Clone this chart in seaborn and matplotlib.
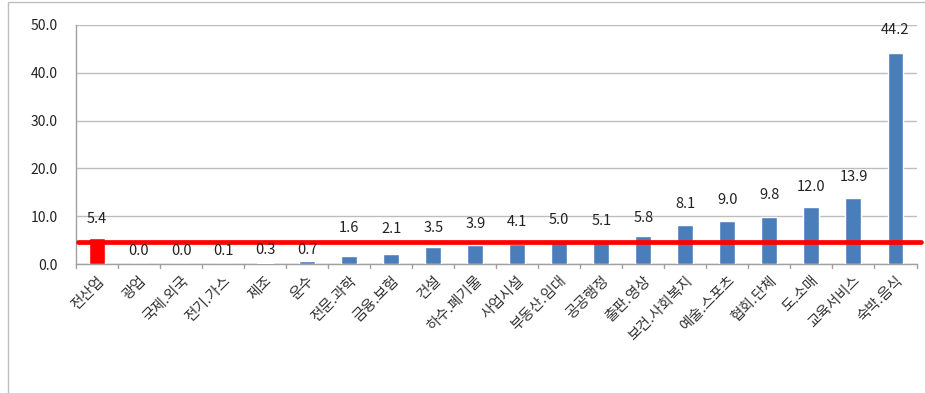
import matplotlib
matplotlib.use("Agg")
import matplotlib.pyplot as plt
import seaborn as sns
import pandas as pd
from matplotlib.patches import Rectangle

categories = ["전산업", "광업", "국제.외국", "전기.가스", "제조", "운수", "전문.과학",
              "금융.보험", "건설", "하수.폐기물", "사업시설", "부동산.임대", "공공행정",
              "출판.영상", "보건.사회복지", "예술.스포츠", "협회.단체", "도.소매",
              "교육서비스", "숙박.음식"]
values = [5.4, 0.0, 0.0, 0.1, 0.3, 0.7, 1.6, 2.1, 3.5, 3.9, 4.1, 5.0, 5.1, 5.8,
          8.1, 9.0, 9.8, 12.0, 13.9, 44.2]
value_labels = ["5.4", "0.0", "0.0", "0.1", "0.3", "0.7", "1.6", "2.1", "3.5", "3.9",
                "4.1", "5.0", "5.1", "5.8", "8.1", "9.0", "9.8", "12.0", "13.9", "44.2"]
reference_level = 4.7
yticks = [0, 10, 20, 30, 40, 50]
ytick_labels = ["0.0", "10.0", "20.0", "30.0", "40.0", "50.0"]

# label vertical offsets in pixels above bar top (as placed in the source chart)
label_offsets = [19, 13, 13, 13, 13, 11, 28, 25, 19, 21, 22, 20, 19, 18,
                 21, 21, 22, 20, 21, 23]

sns.set_theme(style="white")
plt.rcParams['font.family'] = ['Noto Sans CJK KR', 'DejaVu Sans']

df = pd.DataFrame({"cat": categories, "val": values})
colors = ["#FF0000"] + ["#4A7EBB"] * (len(categories) - 1)

fig = plt.figure(figsize=(9.25, 3.93), dpi=100)
ax = fig.add_axes([76 / 925, 1 - 264 / 393, (916.5 - 76) / 925, (264 - 25) / 393])

sns.barplot(data=df, x="cat", y="val", hue="cat", palette=colors, legend=False,
            width=0.38, ax=ax, saturation=1, zorder=3)

ax.set_ylim(0, 50)
ax.set_xlim(-0.5, len(categories) - 0.5)
ax.set_yticks(yticks)
ax.set_yticklabels(ytick_labels, fontsize=10, color="#222222")
ax.set_xlabel("")
ax.set_ylabel("")
ax.grid(axis="y", color="#BDBDBD", linewidth=1.0, zorder=0)
ax.set_axisbelow(True)

for s in ["top", "right"]:
    ax.spines[s].set_visible(False)
ax.spines["left"].set_color("#A0A0A0")
ax.spines["bottom"].set_color("#A0A0A0")
ax.spines["left"].set_linewidth(1.0)
ax.spines["bottom"].set_linewidth(1.0)

# ticks between categories
ax.set_xticks(range(len(categories)))
ax.set_xticklabels(categories, rotation=45, ha="right", rotation_mode="anchor",
                   fontsize=10.5, color="#333333")
ax.tick_params(axis="x", length=0, pad=7)
ax.tick_params(axis="y", length=0, pad=13)
for b in [i - 0.5 for i in range(len(categories) + 1)]:
    ax.plot([b, b], [0, -0.9], color="#A0A0A0", lw=1.0, clip_on=False, zorder=2)

# value labels
for i, (v, lab, off) in enumerate(zip(values, value_labels, label_offsets)):
    ax.annotate(lab, (i, v), xytext=(0, off), textcoords="offset pixels",
                ha="center", va="center", fontsize=10.5, color="#222222", zorder=5)

# red reference line extending to right edge
ax.axhline(reference_level, xmin=0.002, xmax=(921 - 76) / (916.5 - 76),
           color="#FF0000", lw=3.4, clip_on=False, zorder=4)

# outer frame
fig.patches.append(Rectangle((8 / 925, -0.1), 1.2, 1 - 2 / 393 + 0.1,
                             transform=fig.transFigure, fill=False,
                             edgecolor="#BFBFBF", lw=1.0))

fig.savefig("out.png", dpi=100)
